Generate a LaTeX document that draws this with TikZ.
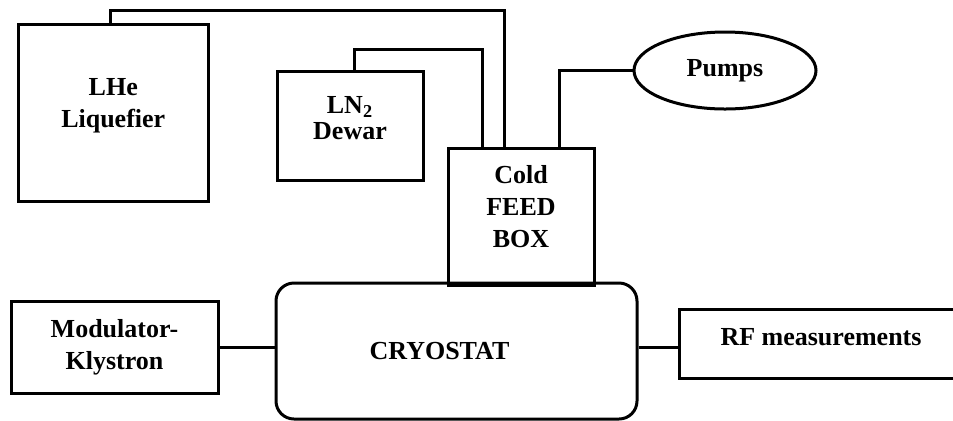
\documentclass[tikz,border=0pt]{standalone}
\usepackage{fontspec}
\setmainfont{Liberation Serif}
\usepackage{tikz}
\usetikzlibrary{shapes.geometric, calc}

\begin{document}
\begin{tikzpicture}[
  x=0.5pt, y=-0.5pt,
  blk/.style={draw, rectangle, line width=1.5pt, inner sep=0pt},
  txt/.style={align=center, inner sep=0pt, font=\fontsize{13}{16}\selectfont\bfseries},
  wire/.style={line width=1.5pt},
  every node/.style={anchor=center}
]
  \useasboundingbox (0,0) rectangle (953,420);
  \clip (0,0) rectangle (953,420);
  % boxes
  \node[blk, minimum width=94.75pt, minimum height=88.25pt] (lhe) at (113.25,112.75) {};
  \node[blk, minimum width=73pt, minimum height=54.5pt] (ln2) at (350,125.5) {};
  \node[blk, minimum width=73pt, minimum height=68.5pt] (cold) at (521,216.5) {};
  \node[draw, ellipse, line width=1.5pt, inner sep=0pt, minimum width=91pt, minimum height=38.5pt] (pumps) at (725,70.5) {};
  \node[blk, minimum width=103.5pt, minimum height=46pt] (mod) at (114.5,347) {};
  \node[blk, rounded corners=9pt, minimum width=180.5pt, minimum height=68pt] (cryo) at (456.5,351) {};
  \node[blk, minimum width=143pt, minimum height=34.5pt] (rf) at (822,343.5) {};
  % labels
  \node[txt] (lhe-t) at ([yshift=3.5pt]lhe) {LHe\\Liquefier};
  \node[txt] (ln2-t) at ([yshift=3.5pt]ln2) {LN\textsubscript{2}\\[-3pt]Dewar};
  \node[txt] (cold-t) at ([yshift=5pt]cold) {Cold\\FEED\\BOX};
  \node[txt] (pumps-t) at (pumps) {Pumps};
  \node[txt] (mod-t) at (mod) {Modulator-\\Klystron};
  \node[txt] (cryo-t) at ([xshift=-8.5pt]cryo) {CRYOSTAT};
  \node[txt] (rf-t) at ([yshift=3pt,xshift=-0.5pt]rf) {RF measurements};
  % feed lines
  \coordinate (he-in) at ([xshift=-8.5pt]cold.north);
  \coordinate (n2-in) at ([xshift=-19.5pt]cold.north);
  \coordinate (vac-out) at ([xshift=19pt]cold.north);
  \draw[wire] ([xshift=-1.5pt]lhe.north) |- (he-in |- 0,10) -- (he-in);
  \draw[wire] ([xshift=2pt]ln2.north) |- (n2-in |- 0,49) -- (n2-in);
  \draw[wire] (pumps.west) -| (vac-out);
  \draw[wire] (mod.east) -- (mod.east -| cryo.west);
  \draw[wire] (cryo.east |- mod.east) -- (rf.west |- mod.east);
\end{tikzpicture}
\end{document}
